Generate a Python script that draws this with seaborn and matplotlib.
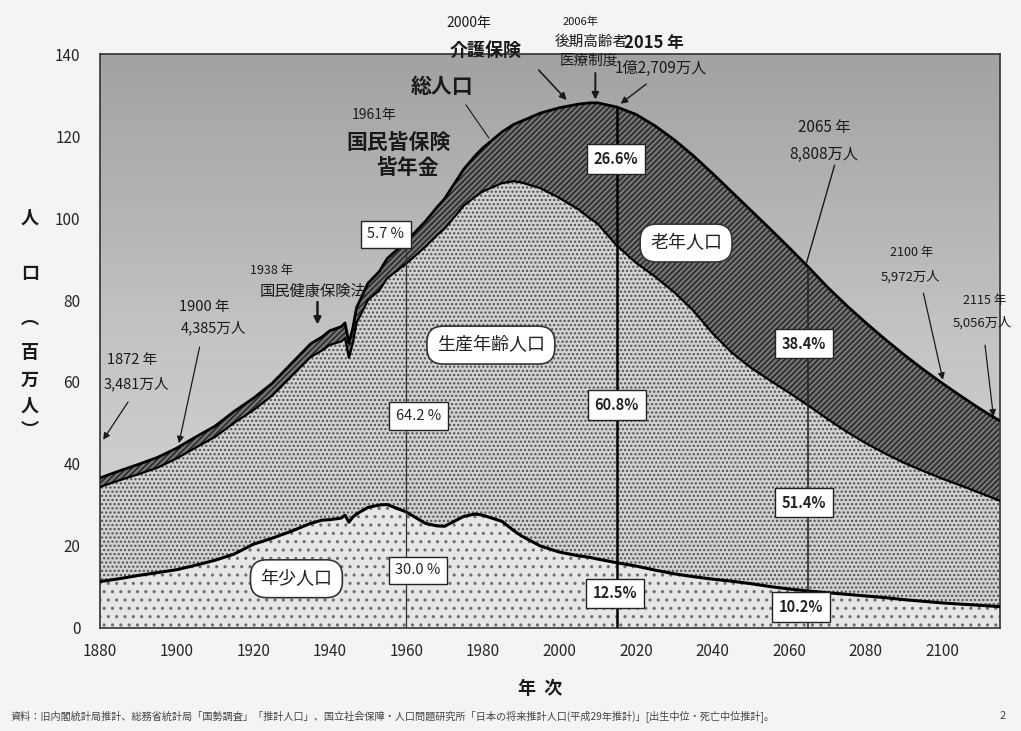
import numpy as np
import pandas as pd
import matplotlib
matplotlib.use("Agg")
import matplotlib.pyplot as plt
from matplotlib.colors import LinearSegmentedColormap
import seaborn as sns

# Population of Japan (millions): total, aged 65+, aged 0-14
years = [1880, 1885, 1890, 1895, 1900, 1905, 1910, 1915, 1920, 1925, 1930, 1935,
         1938, 1940, 1943, 1944, 1945, 1946, 1947, 1950, 1953, 1955, 1960, 1965,
         1968, 1970, 1975, 1978, 1980, 1985, 1988, 1990, 1995, 2000, 2005, 2008,
         2010, 2015, 2020, 2025, 2030, 2035, 2040, 2045, 2050, 2055, 2060, 2065,
         2070, 2075, 2080, 2085, 2090, 2095, 2100, 2105, 2110, 2115]
total = [36.6, 38.3, 39.9, 41.6, 43.85, 46.6, 49.2, 52.8, 56.0, 59.7, 64.5, 69.3,
         71.0, 72.5, 73.5, 74.4, 69.5, 73.0, 78.1, 84.1, 87.0, 90.1, 94.3, 99.2,
         102.6, 104.7, 111.9, 115.2, 117.1, 121.0, 122.8, 123.6, 125.6, 126.9, 127.8, 128.1,
         128.1, 127.09, 125.3, 122.5, 119.1, 115.2, 110.9, 106.4, 101.9, 97.4, 92.8, 88.08,
         83.2, 78.7, 74.5, 70.5, 66.7, 63.1, 59.72, 56.5, 53.4, 50.56]
elderly = [2.2, 2.3, 2.4, 2.5, 2.5, 2.6, 2.6, 2.8, 2.9, 3.0, 3.1, 3.2,
           3.3, 3.45, 3.6, 3.7, 3.6, 3.7, 3.7, 4.1, 4.6, 4.8, 5.4, 6.2,
           6.8, 7.3, 8.9, 10.0, 10.6, 12.5, 13.8, 14.9, 18.3, 22.0, 25.7, 28.2,
           29.5, 33.8, 36.2, 36.8, 37.2, 37.8, 39.0, 39.2, 38.4, 37.0, 35.4, 33.8,
           32.2, 30.8, 29.4, 27.9, 26.4, 24.8, 23.3, 21.8, 20.5, 19.5]
young = [11.3, 12.0, 12.8, 13.5, 14.2, 15.3, 16.5, 18.0, 20.4, 21.9, 23.6, 25.5,
         26.3, 26.4, 26.8, 27.5, 25.8, 27.0, 27.8, 29.4, 30.0, 30.1, 28.3, 25.5,
         24.9, 24.8, 27.2, 27.8, 27.5, 26.0, 23.8, 22.5, 20.0, 18.5, 17.6, 17.2,
         16.8, 15.9, 15.1, 14.1, 13.2, 12.5, 11.9, 11.4, 10.8, 10.1, 9.5, 9.0,
         8.6, 8.2, 7.8, 7.4, 6.9, 6.5, 6.1, 5.8, 5.5, 5.2]

x_ticks = list(range(1880, 2101, 20))
y_ticks = list(range(0, 141, 20))

# Reference years with age-structure shares
marker_years = [1960, 2015, 2065]
share_labels = [
    (1954.6, 96.0, "5.7 %", "normal"),
    (1963.2, 51.7, "64.2 %", "normal"),
    (1963.0, 14.1, "30.0 %", "normal"),
    (2014.8, 114.4, "26.6%", "bold"),
    (2015.0, 54.4, "60.8%", "bold"),
    (2014.6, 8.5, "12.5%", "bold"),
    (2063.9, 69.3, "38.4%", "bold"),
    (2063.9, 30.5, "51.4%", "bold"),
    (2063.2, 5.1, "10.2%", "bold"),
]
group_labels = [
    (1982.1, 69.0, "生産年齢人口"),
    (2033.1, 93.9, "老年人口"),
    (1931.3, 12.0, "年少人口"),
]

df = pd.DataFrame({"year": years, "total": total, "elderly": elderly, "young": young})
df["working_top"] = df["total"] - df["elderly"]

sns.set_theme(style="white")
plt.rcParams["font.family"] = ["Noto Sans CJK JP", "DejaVu Sans"]
plt.rcParams["hatch.linewidth"] = 1.1

fig = plt.figure(figsize=(10.21, 7.31), dpi=100, facecolor="#f4f4f4")
ax = fig.add_axes([0.098, 0.141, 0.881, 0.785])

# Gradient backdrop
grad = np.linspace(0, 1, 256).reshape(-1, 1)
bg_cmap = LinearSegmentedColormap.from_list("bg", ["#dadada", "#c4c4c4", "#a2a2a2"])
ax.imshow(grad, extent=[0, 1, 0, 1], transform=ax.transAxes, cmap=bg_cmap,
          aspect="auto", origin="lower", zorder=0)

# Stacked areas
ax.fill_between(df["year"], 0, df["young"], facecolor="#e6e6e6", edgecolor="#707070",
                hatch="..", linewidth=0, zorder=1)
ax.fill_between(df["year"], df["young"], df["working_top"], facecolor="#d2d2d2",
                edgecolor="#505050", hatch="....", linewidth=0, zorder=1)
ax.fill_between(df["year"], df["working_top"], df["total"], facecolor="#747474",
                edgecolor="#262626", hatch="//////", linewidth=0, zorder=1)

# Boundary lines
sns.lineplot(data=df, x="year", y="young", color="black", linewidth=2.2, ax=ax, zorder=3)
sns.lineplot(data=df, x="year", y="working_top", color="black", linewidth=1.6, ax=ax, zorder=3)
sns.lineplot(data=df, x="year", y="total", color="black", linewidth=2.0, ax=ax, zorder=3)

# Vertical reference lines up to the total curve
tot_at = dict(zip(years, total))
for yr, lw, col in zip(marker_years, [0.9, 1.8, 1.1], ["#333333", "black", "#222222"]):
    ax.plot([yr, yr], [0, tot_at[yr]], color=col, linewidth=lw, zorder=4)

for x, y, txt, wt in share_labels:
    ax.text(x, y, txt, ha="center", va="center", fontsize=10.5, fontweight=wt,
            color="#222222", zorder=6,
            bbox=dict(boxstyle="square,pad=0.45", fc="white", ec="#222222", lw=1.0))

for x, y, txt in group_labels:
    ax.text(x, y, txt, ha="center", va="center", fontsize=13, color="#222222", zorder=6,
            bbox=dict(boxstyle="round,pad=0.55,rounding_size=0.9", fc="white",
                      ec="#333333", lw=1.2))

# Annotations
def note(x, y, txt, size=10.5, weight="normal"):
    ax.text(x, y, txt, ha="center", va="center", fontsize=size, fontweight=weight,
            color="#1a1a1a", zorder=7, clip_on=False)

def arrow(x0, y0, x1, y1, head=True, lw=1.0):
    ax.annotate("", xy=(x1, y1), xytext=(x0, y0), annotation_clip=False, zorder=7,
                arrowprops=dict(arrowstyle="-|>" if head else "-", color="#1a1a1a",
                                lw=lw, mutation_scale=10, shrinkA=0, shrinkB=0))

note(1976.4, 147.6, "2000年", 10)
note(1980.8, 141.0, "介護保険", 13, "bold")
arrow(1994.6, 136.1, 2001.9, 128.8, lw=1.2)
note(2005.5, 147.8, "2006年", 8)
note(2008.4, 142.9, "後期高齢者", 10.5)
note(2007.6, 138.3, "医療制度", 10.5)
arrow(2009.4, 135.4, 2009.4, 128.9, lw=1.4)
note(2024.8, 142.7, "2015 年", 12, "bold")
note(2026.4, 136.6, "1億2,709万人", 11)
arrow(2022.7, 132.7, 2016.0, tot_at[2015] + 0.8, lw=1.0)
note(1969.3, 132.0, "総人口", 15, "bold")
arrow(1975.6, 127.6, 1981.6, 119.5, head=False, lw=0.8)
note(1951.6, 125.1, "1961年", 10)
note(1958.1, 118.5, "国民皆保険", 15, "bold")
note(1960.2, 112.4, "皆年金", 15, "bold")
note(1924.8, 87.1, "1938 年", 9)
note(1935.7, 82.2, "国民健康保険法", 11)
arrow(1936.8, 79.5, 1936.8, 74.0, lw=1.8)
note(1907.3, 78.3, "1900 年", 10.5)
note(1909.7, 73.2, "4,385万人", 10.5)
arrow(1906.0, 68.5, 1900.6, tot_at[1900] + 1.2, lw=0.9)
note(1888.3, 65.4, "1872 年", 10.5)
note(1889.4, 59.5, "3,481万人", 10.5)
arrow(1887.3, 55.1, 1880.8, 45.9, lw=0.9)
note(2069.1, 122.2, "2065 年", 11)
note(2069.1, 115.6, "8,808万人", 11)
arrow(2071.9, 112.9, 2064.5, tot_at[2065] + 0.8, head=False, lw=1.0)
note(2092.0, 91.5, "2100 年", 9)
note(2091.7, 85.6, "5,972万人", 9.5)
arrow(2095.1, 81.7, 2100.2, tot_at[2100] + 0.8, lw=0.9)
note(2111.2, 80.0, "2115 年", 9)
note(2110.5, 74.4, "5,056万人", 9.5)
arrow(2111.2, 69.0, 2113.4, tot_at[2115] + 1.0, lw=0.9)

# Axes styling
ax.set_xlim(1880, 2115)
ax.set_ylim(0, 140)
ax.set_xticks(x_ticks)
ax.set_yticks(y_ticks)
ax.set_xticklabels([str(t) for t in x_ticks], fontsize=11)
ax.set_yticklabels([str(t) for t in y_ticks], fontsize=11)
ax.tick_params(axis="x", direction="out", length=5, width=0.8, color="#333333", pad=6)
ax.tick_params(axis="y", length=0, pad=14)
ax.set_xlabel("")
ax.set_ylabel("")
for s in ax.spines.values():
    s.set_color("#333333")
    s.set_linewidth(1.2)

# Vertical axis title
for ch, py in zip(["人", "口", "︵", "百", "万", "人", "︶"],
                  [218, 273, 318, 353, 380, 406, 430]):
    fig.text(30 / 1021, 1 - py / 731, ch, ha="center", va="center", fontsize=13,
             fontweight="bold", color="#1a1a1a")

fig.text(540 / 1021, 1 - 688 / 731, "年  次", ha="center", va="center", fontsize=13,
         fontweight="bold", color="#1a1a1a")
fig.text(10 / 1021, 1 - 716 / 731,
         "資料：旧内閣統計局推計、総務省統計局「国勢調査」「推計人口」、国立社会保障・人口問題研究所「日本の将来推計人口(平成29年推計)」[出生中位・死亡中位推計]。",
         ha="left", va="center", fontsize=7.3, color="#444444")
fig.text(1003 / 1021, 1 - 716 / 731, "2", ha="center", va="center", fontsize=8,
         color="#444444")

fig.savefig("out.png", dpi=100, facecolor=fig.get_facecolor())
